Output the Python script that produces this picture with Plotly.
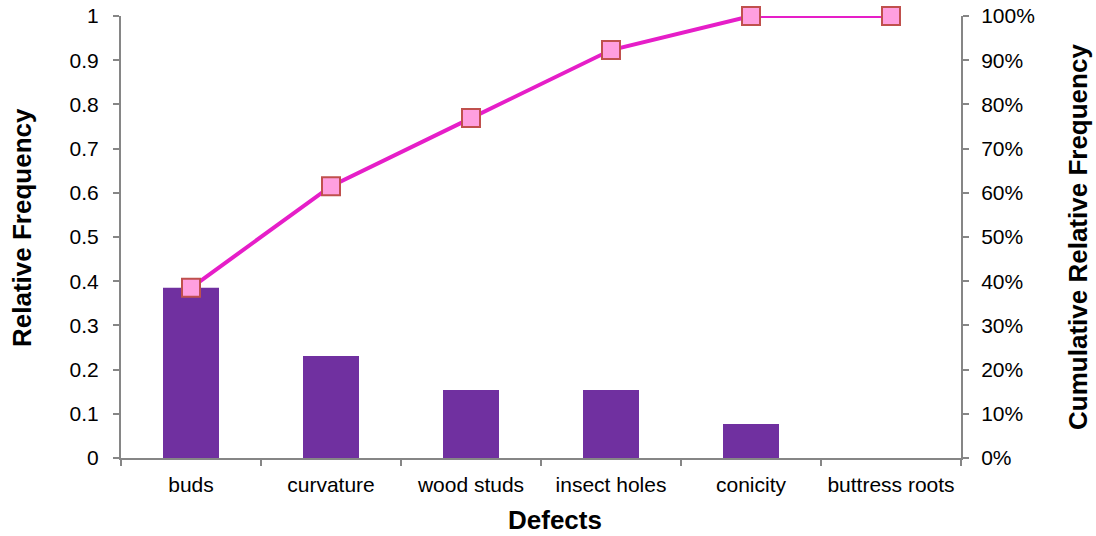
import plotly.graph_objects as go

# Defect categories and their frequencies
defects = ["buds", "curvature", "wood studs", "insect holes", "conicity", "buttress roots"]
relative_freq = [0.385, 0.231, 0.154, 0.154, 0.077, 0.0]
cumulative_freq = [0.385, 0.615, 0.769, 0.923, 1.0, 1.0]

left_ticks = [0, 0.1, 0.2, 0.3, 0.4, 0.5, 0.6, 0.7, 0.8, 0.9, 1]
left_tick_text = ["0", "0.1", "0.2", "0.3", "0.4", "0.5", "0.6", "0.7", "0.8", "0.9", "1"]

FONT = "Liberation Sans, Arial, sans-serif"
AXIS_GREY = "#868686"
TICK_SIZE = 21
TITLE_SIZE = 26

W, H = 1096, 536
M_L, M_R, M_T, M_B = 121, 135, 16, 78

fig = go.Figure()

fig.add_trace(go.Bar(
    x=defects,
    y=relative_freq,
    marker=dict(color="#7030A0", line=dict(width=0)),
    name="Relative Frequency",
))

fig.add_trace(go.Scatter(
    x=defects,
    y=cumulative_freq,
    yaxis="y2",
    mode="lines+markers",
    line=dict(color="#E61EC8", width=4),
    marker=dict(symbol="square", size=18, color="#FF9FDF",
                line=dict(color="#C0504D", width=2)),
    cliponaxis=False,
    name="Cumulative Relative Frequency",
))

# Titles for the left and bottom axes, placed in paper pixels
plot_w = W - M_L - M_R
plot_h = H - M_T - M_B
fig.add_annotation(
    text="<b>Relative Frequency</b>", textangle=-90,
    xref="paper", yref="paper",
    x=(22 - M_L) / plot_w, y=(H - M_B - 228) / plot_h,
    xanchor="center", yanchor="middle", showarrow=False,
    font=dict(size=TITLE_SIZE, family=FONT, color="black"),
)
fig.add_annotation(
    text="<b>Defects</b>",
    xref="paper", yref="paper",
    x=(555 - M_L) / plot_w, y=(H - M_B - 520) / plot_h,
    xanchor="center", yanchor="middle", showarrow=False,
    font=dict(size=TITLE_SIZE, family=FONT, color="black"),
)

fig.update_layout(
    width=W,
    height=H,
    margin=dict(l=M_L, r=M_R, t=M_T, b=M_B, autoexpand=False),
    plot_bgcolor="white",
    paper_bgcolor="white",
    showlegend=False,
    bargap=0.6,
    font=dict(family=FONT, size=TICK_SIZE, color="black"),
    xaxis=dict(
        type="category",
        range=[-0.5, 5.5],
        automargin=False,
        showline=True,
        linecolor=AXIS_GREY,
        linewidth=2,
        ticks="outside",
        tickson="boundaries",
        ticklen=6,
        tickcolor=AXIS_GREY,
        tickwidth=2,
        showgrid=False,
        tickfont=dict(size=TICK_SIZE),
        ticklabelstandoff=7,
    ),
    yaxis=dict(
        range=[0, 1],
        automargin=False,
        tickvals=left_ticks,
        ticktext=left_tick_text,
        showline=True,
        linecolor=AXIS_GREY,
        linewidth=2,
        ticks="outside",
        ticklen=6,
        tickcolor=AXIS_GREY,
        tickwidth=2,
        showgrid=False,
        zeroline=False,
        tickfont=dict(size=TICK_SIZE),
        ticklabelstandoff=10,
    ),
    yaxis2=dict(
        overlaying="y",
        side="right",
        range=[0, 1],
        automargin=False,
        dtick=0.1,
        tickformat=".0%",
        showline=True,
        linecolor=AXIS_GREY,
        linewidth=2,
        ticks="outside",
        ticklen=6,
        tickcolor=AXIS_GREY,
        tickwidth=2,
        showgrid=False,
        zeroline=False,
        tickfont=dict(size=TICK_SIZE),
        ticklabelstandoff=8,
        title=dict(text="<b>Cumulative Relative Frequency</b>", font=dict(size=TITLE_SIZE), standoff=35),
    ),
)

fig.write_html("out.html")
